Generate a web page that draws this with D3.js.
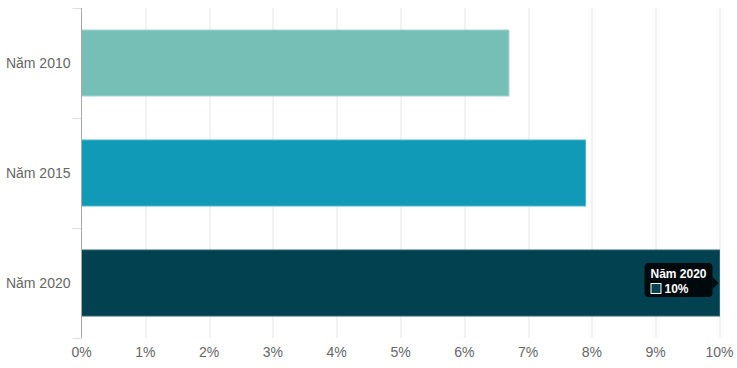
<!DOCTYPE html>
<html>
<head>
<meta charset="utf-8">
<script src="https://cdn.jsdelivr.net/npm/d3@7"></script>
<style>
  body { margin: 0; background: #fff; }
  svg { display: block; font-family: "Liberation Sans", Arial, sans-serif; }
</style>
</head>
<body>
<div class="chart"></div>
<script>
var categories = ['Năm 2010', 'Năm 2015', 'Năm 2020'];
var values = [6.7, 7.9, 10];
var colors = ['#76bfb6', '#1199b8', '#02414f'];
var borders = ['#a3d6cf', '#4db6ce', '#2e6573'];
var xTicks = [0, 1, 2, 3, 4, 5, 6, 7, 8, 9, 10];

var margin = { top: 8, right: 17.5, bottom: 30, left: 81.5 };
var width = 737 - margin.left - margin.right;
var height = 368 - margin.top - margin.bottom;

var svg = d3.select('.chart')
  .append('svg')
    .attr('width', 737)
    .attr('height', 368)
  .append('g')
    .attr('transform', `translate(${margin.left}, ${margin.top})`);

var xScale = d3.scaleLinear()
  .domain([0, 10])
  .range([0, width]);

var yScale = d3.scaleBand()
  .domain(categories)
  .range([0, height])
  .paddingInner(0.4)
  .paddingOuter(0.2);

// vertical gridlines
svg.append('g')
  .selectAll('line')
  .data(xTicks.slice(1))
  .enter()
  .append('line')
    .attr('x1', d => Math.round(xScale(d)) + 0.5)
    .attr('x2', d => Math.round(xScale(d)) + 0.5)
    .attr('y1', 0)
    .attr('y2', height)
    .attr('stroke', '#e5e5e5')
    .attr('stroke-width', 1);

// bars
svg.selectAll('rect.bar')
  .data(values)
  .enter()
  .append('rect')
    .attr('class', 'bar')
    .attr('x', 0)
    .attr('y', (d, i) => yScale(categories[i]))
    .attr('width', d => xScale(d))
    .attr('height', yScale.bandwidth())
    .attr('fill', (d, i) => colors[i])
    .attr('stroke', (d, i) => borders[i])
    .attr('stroke-width', 1);

// y axis line + band ticks
var bounds = d3.range(categories.length + 1).map(i => i * height / categories.length);
svg.append('g')
  .selectAll('line')
  .data(bounds)
  .enter()
  .append('line')
    .attr('x1', -9)
    .attr('x2', 0)
    .attr('y1', d => Math.round(d) + 0.5)
    .attr('y2', d => Math.round(d) + 0.5)
    .attr('stroke', '#e0e0e0');

svg.append('line')
  .attr('x1', 0).attr('x2', 0)
  .attr('y1', 0).attr('y2', height)
  .attr('stroke', '#a8a8a8');

svg.append('g')
  .selectAll('text')
  .data(categories)
  .enter()
  .append('text')
    .attr('x', -11)
    .attr('y', d => yScale(d) + yScale.bandwidth() / 2)
    .attr('dy', '0.35em')
    .attr('text-anchor', 'end')
    .attr('fill', '#666')
    .style('font-size', '14px')
    .text(d => d);

// x axis labels
svg.append('g')
  .selectAll('text')
  .data(xTicks)
  .enter()
  .append('text')
    .attr('x', d => xScale(d))
    .attr('y', height + 14)
    .attr('dy', '0.35em')
    .attr('text-anchor', 'middle')
    .attr('fill', '#666')
    .style('font-size', '14px')
    .text(d => d + '%');

// tooltip on last bar
var last = categories.length - 1;
var tipX = xScale(values[last]) - 75;
var tipY = yScale(categories[last]) + yScale.bandwidth() / 2 - 20;
var tip = svg.append('g').attr('transform', `translate(${tipX}, ${tipY})`);
tip.append('rect')
  .attr('width', 68).attr('height', 34).attr('rx', 4)
  .attr('fill', 'rgba(0,0,0,0.85)');
tip.append('path')
  .attr('d', 'M68,14 L74,20 L68,26 Z')
  .attr('fill', 'rgba(0,0,0,0.85)');
tip.append('text')
  .attr('x', 6).attr('y', 15)
  .attr('fill', '#fff')
  .style('font-size', '12px')
  .style('font-weight', 'bold')
  .text(categories[last]);
tip.append('rect')
  .attr('x', 6.5).attr('y', 20.5).attr('width', 10).attr('height', 10)
  .attr('fill', colors[last])
  .attr('stroke', '#fff');
tip.append('text')
  .attr('x', 20).attr('y', 30)
  .attr('fill', '#fff')
  .style('font-size', '12px')
  .style('font-weight', 'bold')
  .text(values[last] + '%');
</script>
</body>
</html>
